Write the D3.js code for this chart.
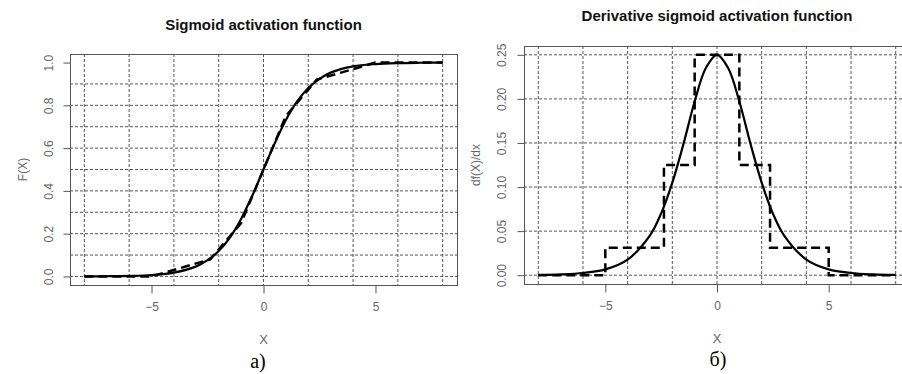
<!DOCTYPE html>
<html>
<head>
<meta charset="utf-8">
<script src="https://cdn.jsdelivr.net/npm/d3@7"></script>
<style>
  body { margin: 0; background: #fff; }
  svg { display: block; font-family: "Liberation Sans", Arial, sans-serif; }
  .tick text { fill: #666; font-size: 12px; }
  .tick line { stroke: #555; }
</style>
</head>
<body>
<div id="chart"></div>
<script>
// values
const xs = [-8, -7, -6, -5, -4, -3, -2.5, -2, -1.5, -1, -0.5, 0, 0.5, 1, 1.5, 2, 2.5, 3, 4, 5, 6, 7, 8];
const sigmoidY = [0.0003, 0.0009, 0.0025, 0.0067, 0.018, 0.047, 0.076, 0.119, 0.182, 0.269, 0.378, 0.5,
                  0.622, 0.731, 0.818, 0.881, 0.924, 0.953, 0.982, 0.993, 0.9975, 0.9991, 0.9997];
const derivY = [0.0003, 0.0009, 0.0025, 0.0066, 0.0177, 0.0452, 0.0701, 0.105, 0.149, 0.197, 0.235, 0.25,
                0.235, 0.197, 0.149, 0.105, 0.0701, 0.0452, 0.0177, 0.0066, 0.0025, 0.0009, 0.0003];

// piecewise linear approximation (dashed)
const approxX = [-8, -5, -2.375, -1, 0, 1, 2.375, 5, 8];
const approxY = [0, 0, 0.08, 0.25, 0.5, 0.75, 0.92, 1, 1];

// its derivative, a step function (dashed)
const stepX = [-8, -5, -2.375, -1, 1, 2.375, 5, 8];
const stepY = [0, 0.03125, 0.125, 0.25, 0.125, 0.03125, 0, 0];

const xTicks = [-5, 0, 5];
const gridX = [-8, -6, -4, -2, 0, 2, 4, 6, 8];
const leftYTicks = [0, 0.2, 0.4, 0.6, 0.8, 1.0];
const leftGridY = [0, 0.1, 0.2, 0.3, 0.4, 0.5, 0.6, 0.7, 0.8, 0.9];
const rightYTicks = [0, 0.05, 0.10, 0.15, 0.20, 0.25];
const rightGridY = [0, 0.05, 0.10, 0.15, 0.20, 0.25];

const width = 902, height = 374;

const svg = d3.select("#chart").append("svg")
    .attr("width", width)
    .attr("height", height);

function drawPanel(opt) {
    const x = d3.scaleLinear().domain([-8.64, 8.64]).range([opt.left, opt.right]);
    const y = d3.scaleLinear().domain(opt.yDomain).range([opt.bottom, opt.top]);
    const g = svg.append("g");

    // grid
    g.selectAll(".gx").data(gridX).enter().append("line")
        .attr("x1", d => x(d)).attr("x2", d => x(d))
        .attr("y1", opt.top).attr("y2", opt.bottom)
        .attr("stroke", "#555").attr("stroke-width", 1).attr("stroke-dasharray", "3,2");
    g.selectAll(".gy").data(opt.gridY).enter().append("line")
        .attr("x1", opt.left).attr("x2", opt.right)
        .attr("y1", d => y(d)).attr("y2", d => y(d))
        .attr("stroke", "#555").attr("stroke-width", 1).attr("stroke-dasharray", "3,2");

    // box
    g.append("rect")
        .attr("x", opt.left + 0.5).attr("y", opt.top + 0.5)
        .attr("width", opt.right - opt.left).attr("height", opt.bottom - opt.top)
        .attr("fill", "none").attr("stroke", "#555");

    // axes
    const xAxis = g.append("g")
        .attr("transform", `translate(0,${opt.bottom + 0.5})`)
        .call(d3.axisBottom(x).tickValues(xTicks).tickSize(8).tickSizeOuter(0).tickPadding(9));
    xAxis.select(".domain").remove();

    const yAxis = g.append("g")
        .attr("transform", `translate(${opt.left + 0.5},0)`)
        .call(d3.axisLeft(y).tickValues(opt.yTicks).tickFormat(opt.fmt).tickSize(7).tickSizeOuter(0));
    yAxis.select(".domain").remove();
    yAxis.selectAll(".tick text")
        .attr("x", null).attr("dy", null)
        .attr("text-anchor", "middle")
        .attr("transform", `translate(${opt.yLabelX - opt.left},0) rotate(-90)`)
        .attr("dy", "0.35em");

    // curves
    const smooth = d3.line().x(d => x(d[0])).y(d => y(d[1])).curve(d3.curveCatmullRom);
    g.append("path")
        .datum(d3.zip(xs, opt.solid))
        .attr("d", smooth)
        .attr("fill", "none").attr("stroke", "#000").attr("stroke-width", 2.2);

    const dashed = d3.line().x(d => x(d[0])).y(d => y(d[1])).curve(opt.dashCurve);
    g.append("path")
        .datum(d3.zip(opt.dashX, opt.dashY))
        .attr("d", dashed)
        .attr("fill", "none").attr("stroke", "#000").attr("stroke-width", 2.5)
        .attr("stroke-dasharray", "9,5");

    // texts
    svg.append("text")
        .attr("x", x(0)).attr("y", opt.titleY)
        .attr("text-anchor", "middle")
        .style("font-size", "15px").style("font-weight", "bold").attr("fill", "#111")
        .text(opt.title);
    svg.append("text")
        .attr("transform", `translate(${opt.yTitleX},${(opt.top + opt.bottom) / 2}) rotate(-90)`)
        .attr("text-anchor", "middle").attr("dy", "0.35em")
        .style("font-size", "12px").attr("fill", "#666")
        .text(opt.yTitle);
    svg.append("text")
        .attr("x", x(0)).attr("y", opt.xTitleY)
        .attr("text-anchor", "middle")
        .style("font-size", "13px").attr("fill", "#666")
        .text("X");
    svg.append("text")
        .attr("x", opt.capX).attr("y", opt.capY)
        .attr("text-anchor", "middle")
        .style("font-family", "'Liberation Serif', 'Times New Roman', serif")
        .style("font-size", "20px").attr("fill", "#000")
        .text(opt.caption);
}

// а) sigmoid
drawPanel({
    left: 70, right: 457, top: 54, bottom: 285,
    yDomain: [-0.04, 1.04], yTicks: leftYTicks, gridY: leftGridY,
    fmt: d3.format(".1f"), yLabelX: 48,
    solid: sigmoidY, dashX: approxX, dashY: approxY, dashCurve: d3.curveLinear,
    title: "Sigmoid activation function", titleY: 30,
    yTitle: "F(X)", yTitleX: 23, xTitleY: 344,
    caption: "а)", capX: 258, capY: 368
});

// б) derivative
drawPanel({
    left: 524, right: 910, top: 46, bottom: 284,
    yDomain: [-0.01, 0.26], yTicks: rightYTicks, gridY: rightGridY,
    fmt: d3.format(".2f"), yLabelX: 501,
    solid: derivY, dashX: stepX, dashY: stepY, dashCurve: d3.curveStepAfter,
    title: "Derivative sigmoid activation function", titleY: 21,
    yTitle: "df(X)/dx", yTitleX: 476, xTitleY: 343,
    caption: "б)", capX: 718, capY: 366
});
</script>
</body>
</html>
